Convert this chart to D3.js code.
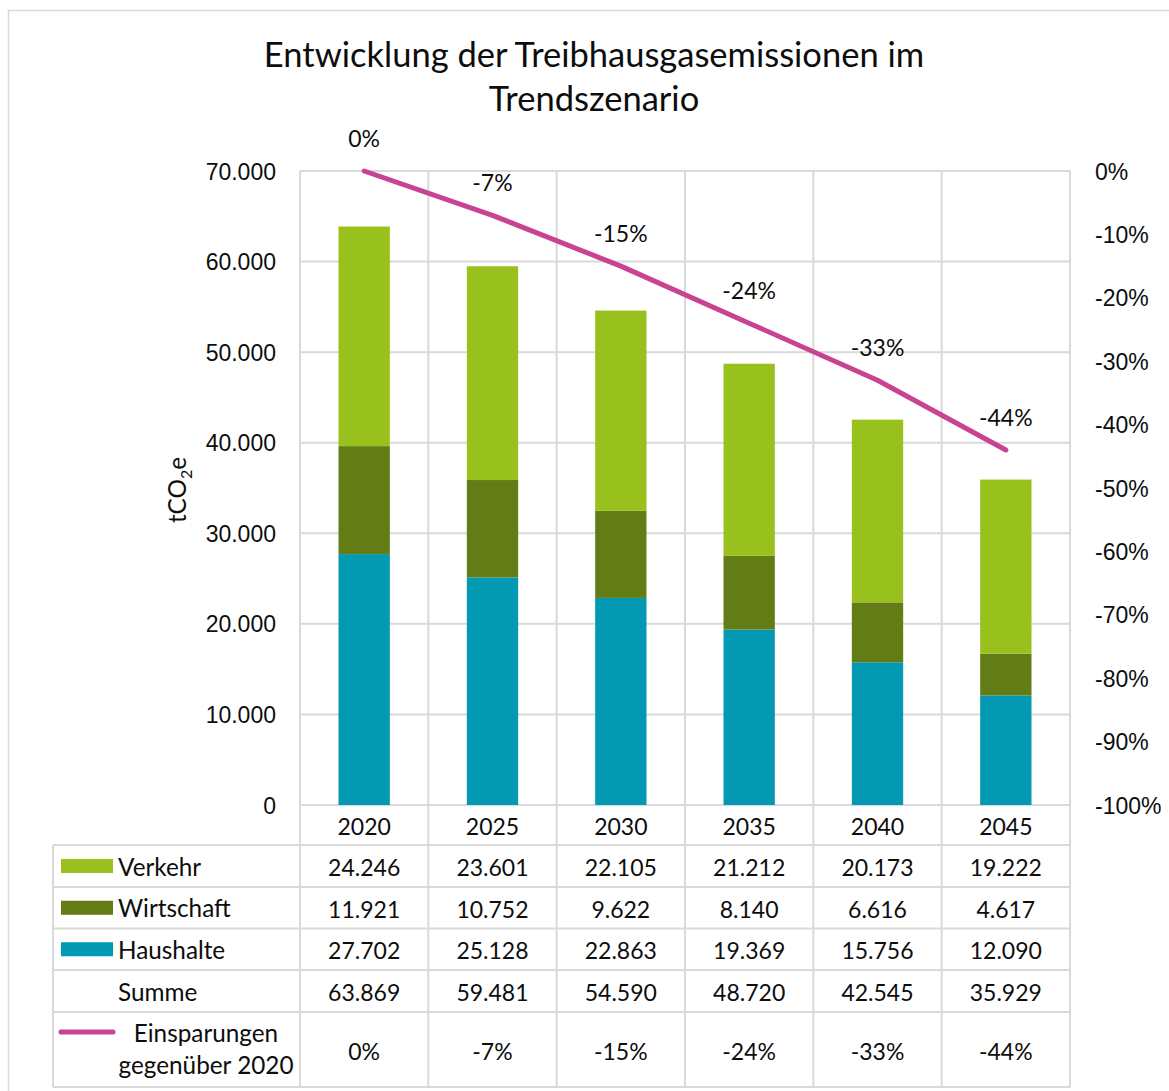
<!DOCTYPE html>
<html>
<head>
<meta charset="utf-8">
<script src="https://cdn.jsdelivr.net/npm/d3@7"></script>
<style>
  html, body { margin: 0; padding: 0; background: #fff; }
  svg { display: block; font-family: Lato, "Open Sans", sans-serif; }
  text { fill: #0d0d0d; }
</style>
</head>
<body>
<svg id="chart" width="1169" height="1091"></svg>
<script>
// Emissions in tCO2e per sector and year (trend scenario)
const years = ["2020", "2025", "2030", "2035", "2040", "2045"];
const verkehr = [24246, 23601, 22105, 21212, 20173, 19222];
const wirtschaft = [11921, 10752, 9622, 8140, 6616, 4617];
const haushalte = [27702, 25128, 22863, 19369, 15756, 12090];
const summe = [63869, 59481, 54590, 48720, 42545, 35929];
// Savings relative to 2020, in percent
const einsparungen = [0, -7, -15, -24, -33, -44];

const leftTicks = [0, 10000, 20000, 30000, 40000, 50000, 60000, 70000];
const rightTicks = [0, -10, -20, -30, -40, -50, -60, -70, -80, -90, -100];

const colors = { Verkehr: "#98c11d", Wirtschaft: "#637c15", Haushalte: "#0399b3" };
const lineColor = "#c94393";
const gridColor = "#d9d9d9";

const numSize = 23;    // numbers
const wordSize = 24.3; // word labels
const titleSize = 34.5;

const de = d3.formatLocale({ decimal: ",", thousands: ".", grouping: [3], currency: ["", " €"] });
const fmtNum = de.format(",d");
const fmtPct = v => (v < 0 ? "-" : "") + Math.abs(v) + "%";

const svg = d3.select("#chart");

// outer chart frame
svg.append("rect").attr("x", 8.5).attr("y", 10.5).attr("width", 1200).attr("height", 1200)
  .attr("fill", "none").attr("stroke", gridColor).attr("stroke-width", 1.5);

const plot = { left: 300, right: 1070, top: 171, bottom: 805 };

const x = d3.scaleBand().domain(years).range([plot.left, plot.right])
  .paddingInner(0.6).paddingOuter(0.3);
const y = d3.scaleLinear().domain([0, 70000]).range([plot.bottom, plot.top]);
const y2 = d3.scaleLinear().domain([-100, 0]).range([plot.bottom, plot.top]);
const step = x.step();
const catLeft = i => plot.left + i * step;

// table geometry
const tableLeft = 53;
const rowEdges = [845, 887, 928.5, 970, 1012, 1087];

// gridlines
const grid = svg.append("g").attr("stroke", gridColor).attr("stroke-width", 2);
leftTicks.forEach(t => {
  grid.append("line").attr("x1", plot.left).attr("x2", plot.right)
    .attr("y1", y(t)).attr("y2", y(t));
});
for (let i = 0; i <= years.length; i++) {
  grid.append("line").attr("x1", catLeft(i)).attr("x2", catLeft(i))
    .attr("y1", plot.top).attr("y2", rowEdges[rowEdges.length - 1]);
}
rowEdges.forEach(ry => {
  grid.append("line").attr("x1", tableLeft).attr("x2", plot.right)
    .attr("y1", ry).attr("y2", ry);
});
grid.append("line").attr("x1", tableLeft).attr("x2", tableLeft)
  .attr("y1", rowEdges[0]).attr("y2", rowEdges[rowEdges.length - 1]);

// stacked bars
const rows = years.map((yr, i) => ({ year: yr, Haushalte: haushalte[i], Wirtschaft: wirtschaft[i], Verkehr: verkehr[i] }));
const stack = d3.stack().keys(["Haushalte", "Wirtschaft", "Verkehr"]);
svg.append("g").selectAll("g").data(stack(rows)).join("g")
  .attr("fill", d => colors[d.key])
  .selectAll("rect").data(d => d).join("rect")
  .attr("x", d => x(d.data.year))
  .attr("width", x.bandwidth())
  .attr("y", d => y(d[1]))
  .attr("height", d => y(d[0]) - y(d[1]));

// savings line
const cx = yr => x(yr) + x.bandwidth() / 2;
const line = d3.line().x((d, i) => cx(years[i])).y(d => y2(d));
svg.append("path").datum(einsparungen).attr("d", line)
  .attr("fill", "none").attr("stroke", lineColor).attr("stroke-width", 5)
  .attr("stroke-linecap", "round").attr("stroke-linejoin", "round");

svg.append("g").selectAll("text").data(einsparungen).join("text")
  .attr("x", (d, i) => cx(years[i]))
  .attr("y", d => y2(d) - 33)
  .attr("text-anchor", "middle").attr("dominant-baseline", "central")
  .attr("font-size", numSize)
  .text(d => fmtPct(d));

// left axis
const yAxis = d3.axisLeft(y).tickValues(leftTicks).tickSize(0).tickPadding(0).tickFormat(fmtNum);
const gy = svg.append("g").attr("transform", "translate(276,0)").call(yAxis);
gy.select(".domain").remove();
gy.selectAll("text").attr("font-size", numSize).attr("font-family", null).attr("fill", "#0d0d0d").attr("dy", "0.35em");

// right axis
const y2Axis = d3.axisRight(y2).tickValues(rightTicks).tickSize(0).tickPadding(0).tickFormat(fmtPct);
const gy2 = svg.append("g").attr("transform", "translate(1095,0)").call(y2Axis);
gy2.select(".domain").remove();
gy2.selectAll("text").attr("font-size", numSize).attr("font-family", null).attr("fill", "#0d0d0d").attr("dy", "0.35em");

// axis title
const yt = svg.append("text").attr("transform", "translate(186,490) rotate(-90)")
  .attr("text-anchor", "middle").attr("font-size", wordSize);
yt.append("tspan").text("tCO");
yt.append("tspan").attr("font-size", 16).attr("dy", 6).text("2");
yt.append("tspan").attr("dy", -6).text("e");

// title
const title = svg.append("text").attr("text-anchor", "middle").attr("font-size", titleSize);
title.append("tspan").attr("x", 594).attr("y", 67).text("Entwicklung der Treibhausgasemissionen im");
title.append("tspan").attr("x", 594).attr("y", 111).text("Trendszenario");

// category labels (year row of the data table)
svg.append("g").selectAll("text").data(years).join("text")
  .attr("x", d => cx(d)).attr("y", 826)
  .attr("text-anchor", "middle").attr("dominant-baseline", "central")
  .attr("font-size", numSize).text(d => d);

// data table rows
const tableRows = [
  { name: "Verkehr", values: verkehr.map(fmtNum), swatch: "rect", color: colors.Verkehr },
  { name: "Wirtschaft", values: wirtschaft.map(fmtNum), swatch: "rect", color: colors.Wirtschaft },
  { name: "Haushalte", values: haushalte.map(fmtNum), swatch: "rect", color: colors.Haushalte },
  { name: "Summe", values: summe.map(fmtNum), swatch: null },
  { name: "Einsparungen", values: einsparungen.map(fmtPct), swatch: "line", color: lineColor }
];

tableRows.forEach((r, ri) => {
  const top = rowEdges[ri], bot = rowEdges[ri + 1];
  const mid = (top + bot) / 2;
  const g = svg.append("g");
  r.values.forEach((v, i) => {
    g.append("text").attr("x", cx(years[i])).attr("y", mid + 1)
      .attr("text-anchor", "middle").attr("dominant-baseline", "central")
      .attr("font-size", numSize).text(v);
  });
  if (r.swatch === "rect") {
    g.append("rect").attr("x", 61).attr("y", mid - 7).attr("width", 52).attr("height", 14).attr("fill", r.color);
  }
  if (r.swatch === "line") {
    g.append("line").attr("x1", 61).attr("x2", 113).attr("y1", 1032).attr("y2", 1032)
      .attr("stroke", r.color).attr("stroke-width", 5).attr("stroke-linecap", "round");
    g.append("text").attr("x", 206).attr("y", 1032).attr("text-anchor", "middle")
      .attr("dominant-baseline", "central").attr("font-size", wordSize).text("Einsparungen");
    g.append("text").attr("x", 206).attr("y", 1064).attr("text-anchor", "middle")
      .attr("dominant-baseline", "central").attr("font-size", wordSize).text("gegenüber 2020");
  } else {
    g.append("text").attr("x", 118).attr("y", mid).attr("dominant-baseline", "central")
      .attr("font-size", wordSize).text(r.name);
  }
});
</script>
</body>
</html>
